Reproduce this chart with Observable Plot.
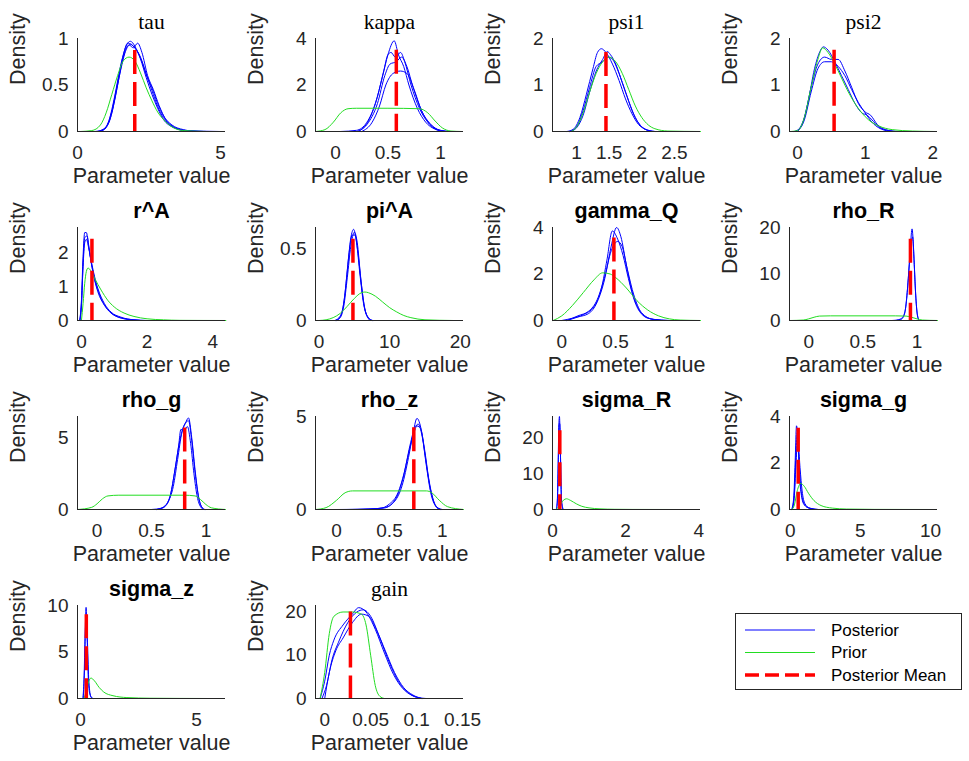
<!DOCTYPE html>
<html><head><meta charset="utf-8">
<script src="https://cdn.jsdelivr.net/npm/d3@7"></script>
<script src="https://cdn.jsdelivr.net/npm/@observablehq/plot@0.6"></script>
<style>
html,body{margin:0;padding:0;background:#fff;}
#chart{position:relative;width:969px;height:761px;overflow:hidden;background:#fff;}
#chart > .panel{position:absolute;}
</style></head><body><div id="chart"></div>
<script>
// ---------------- DATA ----------------
const paramNames = ["tau","kappa","psi1","psi2","r^A","pi^A","gamma_Q","rho_R","rho_g","rho_z","sigma_R","sigma_g","sigma_z","gain"];
const xTicks = [[0,5],[0,0.5,1],[1,1.5,2,2.5],[0,1,2],[0,2,4],[0,10,20],[0,0.5,1],[0,0.5,1],[0,0.5,1],[0,0.5,1],[0,2,4],[0,5,10],[0,5],[0,0.05,0.1,0.15]];
const yTicks = [[0,0.5,1],[0,2,4],[0,1,2],[0,1,2],[0,1,2],[0,0.5],[0,2,4],[0,10,20],[0,5],[0,5],[0,10,20],[0,2,4],[0,5,10],[0,10,20]];
const posteriorMeans = [2.0,0.58,1.45,0.54,0.32,4.8,0.485,0.94,0.805,0.73,0.2,0.57,0.25,0.028];
const meanLineTops = [0.87,3.5,1.7,1.75,2.4,0.57,3.55,17.5,5.7,4.4,22,3.5,9,20];
const legendLabels = ["Posterior","Prior","Posterior Mean"];

const prior_tau = [[0.1,0],[0.5,0.01],[0.8,0.07],[1.0,0.2],[1.2,0.4],[1.4,0.6],[1.6,0.76],[1.8,0.8],[2.0,0.76],[2.2,0.63],[2.4,0.47],[2.6,0.33],[2.8,0.21],[3.0,0.13],[3.3,0.05],[3.7,0.01],[4.5,0]];
const post_tau = [
 [[0.6,0],[0.9,0.02],[1.1,0.12],[1.3,0.38],[1.5,0.7],[1.7,0.92],[1.85,0.97],[2.0,0.92],[2.2,0.78],[2.4,0.58],[2.6,0.4],[2.8,0.25],[3.0,0.13],[3.3,0.05],[3.6,0.02],[4.0,0]],
 [[0.8,0],[1.0,0.04],[1.2,0.2],[1.4,0.5],[1.6,0.8],[1.8,0.93],[1.95,0.9],[2.1,0.95],[2.25,0.85],[2.45,0.6],[2.65,0.45],[2.85,0.28],[3.1,0.12],[3.4,0.04],[3.8,0.01],[5.0,0]],
 [[0.7,0],[1.0,0.05],[1.2,0.22],[1.4,0.52],[1.6,0.82],[1.75,0.95],[1.9,0.93],[2.05,0.88],[2.25,0.75],[2.45,0.57],[2.6,0.47],[2.8,0.3],[3.0,0.17],[3.3,0.07],[3.7,0.02],[4.2,0]],
 [[0.8,0],[1.1,0.1],[1.3,0.34],[1.5,0.65],[1.7,0.88],[1.85,0.94],[2.0,0.9],[2.2,0.8],[2.4,0.62],[2.6,0.44],[2.8,0.27],[3.0,0.15],[3.3,0.06],[3.7,0.01],[4.5,0]]
];
const prior_kappa = [[-0.19,0],[-0.1,0.08],[-0.02,0.4],[0.05,0.8],[0.12,0.98],[0.2,1.0],[0.5,1.0],[0.8,0.98],[0.88,0.8],[0.95,0.45],[1.02,0.15],[1.1,0.02],[1.2,0]];
const post_kappa = [
 [[0.05,0],[0.2,0.05],[0.3,0.4],[0.38,1.2],[0.45,2.4],[0.5,3.3],[0.56,3.9],[0.6,3.3],[0.65,2.8],[0.7,2.0],[0.78,1.0],[0.86,0.4],[0.95,0.1],[1.05,0]],
 [[0.2,0],[0.3,0.3],[0.4,1.2],[0.47,2.4],[0.52,2.9],[0.58,3.0],[0.63,3.2],[0.68,2.8],[0.74,1.9],[0.82,0.9],[0.9,0.3],[1.0,0.05],[1.08,0]],
 [[0.25,0],[0.35,0.4],[0.42,1.1],[0.48,2.0],[0.55,2.5],[0.62,2.6],[0.68,2.5],[0.75,1.8],[0.82,0.9],[0.9,0.35],[1.0,0.05],[1.1,0]],
 [[0.22,0],[0.32,0.5],[0.4,1.5],[0.46,2.6],[0.5,3.3],[0.53,3.4],[0.57,3.2],[0.62,3.4],[0.66,3.0],[0.72,2.0],[0.8,1.0],[0.9,0.3],[1.0,0.02],[1.05,0]]
];
const prior_psi1 = [[0.63,0],[0.9,0],[1.0,0.1],[1.1,0.4],[1.2,0.85],[1.3,1.25],[1.4,1.5],[1.5,1.6],[1.6,1.5],[1.7,1.25],[1.8,0.9],[1.9,0.55],[2.0,0.3],[2.1,0.14],[2.2,0.06],[2.4,0.01],[2.9,0]];
const post_psi1 = [
 [[0.85,0],[0.95,0.05],[1.05,0.3],[1.15,0.8],[1.25,1.35],[1.32,1.7],[1.38,1.78],[1.45,1.7],[1.55,1.45],[1.65,1.1],[1.75,0.7],[1.85,0.38],[1.95,0.15],[2.05,0.05],[2.2,0]],
 [[0.9,0],[1.0,0.1],[1.1,0.45],[1.2,0.95],[1.3,1.4],[1.4,1.5],[1.48,1.6],[1.55,1.55],[1.65,1.25],[1.75,0.85],[1.85,0.45],[1.95,0.18],[2.05,0.05],[2.2,0]],
 [[0.9,0],[1.0,0.08],[1.1,0.35],[1.2,0.85],[1.3,1.3],[1.4,1.55],[1.47,1.72],[1.52,1.65],[1.6,1.45],[1.7,1.05],[1.8,0.65],[1.9,0.3],[2.0,0.1],[2.15,0]]
];
const prior_psi2 = [[-0.1,0],[0,0.02],[0.1,0.3],[0.2,0.95],[0.3,1.55],[0.37,1.8],[0.45,1.7],[0.55,1.45],[0.65,1.15],[0.75,0.85],[0.85,0.6],[0.95,0.4],[1.05,0.25],[1.2,0.12],[1.4,0.04],[1.7,0.01],[2.05,0]];
const post_psi2 = [
 [[-0.05,0],[0.05,0.1],[0.15,0.6],[0.25,1.35],[0.33,1.72],[0.38,1.82],[0.45,1.75],[0.55,1.5],[0.65,1.2],[0.75,0.9],[0.85,0.6],[0.95,0.4],[1.03,0.35],[1.1,0.25],[1.2,0.1],[1.35,0.02],[1.5,0]],
 [[0,0],[0.1,0.3],[0.2,0.95],[0.3,1.45],[0.4,1.6],[0.5,1.55],[0.6,1.55],[0.7,1.3],[0.8,0.95],[0.9,0.6],[1.0,0.42],[1.08,0.35],[1.18,0.15],[1.3,0.04],[1.45,0]],
 [[0,0],[0.1,0.25],[0.2,0.85],[0.3,1.35],[0.4,1.5],[0.5,1.5],[0.6,1.4],[0.7,1.2],[0.8,0.9],[0.9,0.62],[1.0,0.4],[1.1,0.2],[1.2,0.08],[1.35,0.01],[1.45,0]]
];
const prior_rA = [[0,0],[0.05,0.5],[0.1,1.1],[0.15,1.45],[0.2,1.55],[0.3,1.45],[0.4,1.25],[0.6,0.9],[0.8,0.6],[1.0,0.4],[1.3,0.22],[1.6,0.12],[2.0,0.05],[2.5,0.02],[3.0,0.005],[4.4,0]];
const post_rA = [
 [[-0.05,0],[0,0.6],[0.05,1.9],[0.1,2.6],[0.15,2.6],[0.22,2.2],[0.3,1.7],[0.4,1.2],[0.5,0.85],[0.7,0.45],[0.9,0.22],[1.2,0.08],[1.6,0.02],[2.0,0],[4.2,0]],
 [[-0.05,0],[0,0.5],[0.05,1.6],[0.1,2.3],[0.15,2.4],[0.22,2.15],[0.3,1.75],[0.4,1.3],[0.5,0.95],[0.7,0.5],[0.9,0.25],[1.2,0.1],[1.6,0.02],[2.0,0]],
 [[-0.05,0],[0,0.4],[0.05,1.7],[0.1,2.45],[0.17,2.5],[0.25,2.0],[0.33,1.55],[0.45,1.05],[0.6,0.65],[0.8,0.33],[1.0,0.16],[1.3,0.05],[1.8,0]]
];
const prior_piA = [[0,0],[1,0.005],[2,0.02],[3,0.05],[4,0.1],[5,0.155],[6,0.195],[6.5,0.2],[7,0.195],[8,0.17],[9,0.13],[10,0.09],[11,0.06],[12,0.035],[13,0.02],[15,0.005],[19,0]];
const post_piA = [
 [[2.2,0],[3,0.03],[3.5,0.12],[4,0.35],[4.5,0.58],[4.9,0.64],[5.3,0.55],[5.8,0.32],[6.3,0.12],[6.8,0.03],[7.5,0]],
 [[2.4,0],[3,0.02],[3.5,0.1],[4,0.3],[4.5,0.52],[5,0.62],[5.4,0.55],[5.9,0.3],[6.4,0.1],[7,0.02],[7.6,0]],
 [[2.5,0],[3.2,0.05],[3.7,0.2],[4.2,0.45],[4.7,0.6],[5.1,0.6],[5.5,0.48],[6,0.25],[6.5,0.08],[7.2,0]]
];
const prior_gammaQ = [[-0.08,0],[0,0.2],[0.1,0.65],[0.2,1.2],[0.3,1.75],[0.38,2.05],[0.45,2.0],[0.5,1.85],[0.6,1.4],[0.7,0.85],[0.8,0.45],[0.9,0.2],[1.0,0.07],[1.1,0.02],[1.29,0]];
const post_gammaQ = [
 [[0,0],[0.1,0.1],[0.2,0.25],[0.3,0.6],[0.37,1.4],[0.42,2.6],[0.47,3.85],[0.52,3.5],[0.57,2.8],[0.62,1.8],[0.68,0.8],[0.75,0.25],[0.85,0.05],[1.0,0]],
 [[0.05,0],[0.15,0.15],[0.25,0.3],[0.33,0.8],[0.4,1.8],[0.46,3.2],[0.51,4.0],[0.55,3.6],[0.6,2.4],[0.65,1.3],[0.72,0.45],[0.8,0.1],[0.95,0]],
 [[0.05,0],[0.15,0.2],[0.25,0.4],[0.33,0.9],[0.4,1.9],[0.46,3.0],[0.52,3.4],[0.56,3.2],[0.61,2.2],[0.67,1.1],[0.74,0.35],[0.85,0.05],[1.0,0]]
];
const prior_rhoR = [[-0.17,0],[-0.05,0.1],[0.0,0.35],[0.05,0.7],[0.1,0.95],[0.2,1.0],[0.8,1.0],[0.9,0.95],[0.95,0.7],[1.0,0.35],[1.05,0.1],[1.19,0]];
const post_rhoR = [
 [[0.77,0],[0.85,0.2],[0.88,1],[0.9,3.5],[0.92,9],[0.94,16],[0.955,19.7],[0.97,15],[0.985,7],[1.0,2],[1.02,0]],
 [[0.8,0],[0.86,0.5],[0.89,2],[0.91,6],[0.93,12],[0.95,17],[0.96,18],[0.975,12],[0.99,5],[1.005,1],[1.02,0]]
];
const prior_rhog = [[-0.18,0],[-0.05,0.15],[0,0.4],[0.05,0.75],[0.1,0.95],[0.2,1.0],[0.8,1.0],[0.9,0.95],[0.95,0.7],[1.0,0.35],[1.05,0.12],[1.18,0]];
const post_rhog = [
 [[0.5,0],[0.6,0.1],[0.65,0.5],[0.7,1.6],[0.74,3.5],[0.78,5.4],[0.81,6.0],[0.84,6.4],[0.87,5.0],[0.9,2.8],[0.93,1.0],[0.96,0.2],[0.99,0]],
 [[0.55,0],[0.62,0.2],[0.67,0.9],[0.71,2.5],[0.75,4.5],[0.77,5.6],[0.8,5.5],[0.83,5.8],[0.86,4.6],[0.89,2.5],[0.92,0.9],[0.95,0.2],[0.98,0]],
 [[0.55,0],[0.63,0.3],[0.68,1.2],[0.72,3.0],[0.76,4.8],[0.8,5.9],[0.84,6.2],[0.87,4.8],[0.9,2.6],[0.94,0.6],[0.98,0]]
];
const prior_rhoz = [[-0.2,0],[-0.1,0.1],[0,0.5],[0.08,0.9],[0.15,1.0],[0.85,1.0],[0.9,0.9],[0.97,0.5],[1.05,0.15],[1.2,0]];
const post_rhoz = [
 [[0,0],[0.3,0.02],[0.45,0.1],[0.55,0.45],[0.62,1.3],[0.68,2.8],[0.72,4.0],[0.76,4.9],[0.8,4.3],[0.84,2.8],[0.88,1.3],[0.92,0.4],[0.96,0.08],[1.0,0]],
 [[0.1,0],[0.4,0.05],[0.5,0.3],[0.58,0.9],[0.64,2.0],[0.7,3.6],[0.75,4.5],[0.79,4.4],[0.83,3.3],[0.87,1.7],[0.91,0.6],[0.95,0.1],[0.99,0]],
 [[0.2,0],[0.45,0.08],[0.55,0.5],[0.62,1.5],[0.68,3.0],[0.73,4.1],[0.77,4.6],[0.81,3.9],[0.85,2.3],[0.89,0.9],[0.94,0.15],[0.98,0]]
];
const prior_sigmaR = [[0.1,0],[0.2,1.2],[0.3,2.6],[0.38,3.0],[0.5,2.5],[0.65,1.6],[0.8,0.9],[1.0,0.45],[1.3,0.18],[1.7,0.06],[2.2,0.02],[3.45,0]];
const post_sigmaR = [
 [[0.1,0],[0.13,2],[0.15,10],[0.17,22],[0.19,26],[0.21,20],[0.23,9],[0.25,2],[0.3,0]],
 [[0.11,0],[0.14,4],[0.16,14],[0.18,24],[0.2,24],[0.22,14],[0.24,4],[0.28,0]]
];
const prior_sigmag = [[0.1,0],[0.3,0.2],[0.5,0.8],[0.75,1.12],[1.0,1.0],[1.3,0.7],[1.7,0.38],[2.2,0.17],[3,0.06],[4,0.02],[6,0.005],[10.3,0]];
const post_sigmag = [
 [[0.1,0],[0.25,0.5],[0.35,2],[0.45,3.6],[0.55,3.0],[0.65,1.6],[0.8,0.6],[1.0,0.2],[1.4,0.05],[2,0]],
 [[0.15,0],[0.3,0.6],[0.4,1.8],[0.5,2.7],[0.6,2.6],[0.7,1.8],[0.85,0.8],[1.05,0.25],[1.4,0.06],[2,0]],
 [[0.15,0],[0.3,0.8],[0.42,2.5],[0.5,3.3],[0.6,2.4],[0.72,1.2],[0.9,0.4],[1.2,0.1],[1.8,0]]
];
const prior_sigmaz = [[0.15,0],[0.25,0.8],[0.35,1.8],[0.45,2.2],[0.6,1.9],[0.8,1.2],[1.0,0.7],[1.4,0.3],[2,0.1],[3,0.03],[5.5,0]];
const post_sigmaz = [
 [[0.1,0],[0.15,2],[0.2,7],[0.24,9.8],[0.28,7],[0.33,2.5],[0.4,0.5],[0.5,0]],
 [[0.12,0],[0.17,3],[0.22,8],[0.26,8.8],[0.3,6],[0.36,1.8],[0.45,0.2],[0.55,0]]
];
const prior_gain = [[-0.005,0],[0,6],[0.005,15],[0.01,19],[0.02,20],[0.03,20],[0.04,19.5],[0.045,17],[0.05,10],[0.055,3],[0.06,0.5],[0.065,0]];
const post_gain = [
 [[-0.005,0],[0,4],[0.005,10],[0.01,13.5],[0.02,17],[0.03,19.5],[0.037,21],[0.045,20],[0.055,16],[0.065,10.5],[0.075,5.5],[0.085,2.3],[0.095,0.7],[0.105,0]],
 [[-0.003,0],[0.002,3],[0.008,9],[0.015,13],[0.025,17.5],[0.035,20],[0.042,20.5],[0.05,19],[0.06,14],[0.07,8.5],[0.08,4],[0.09,1.5],[0.1,0.3],[0.11,0]],
 [[0,0],[0.005,6],[0.012,11],[0.02,14],[0.03,17.5],[0.04,19.5],[0.048,19],[0.056,16],[0.066,11],[0.076,6],[0.086,2.5],[0.096,0.8],[0.106,0]]
];

const priors = [prior_tau,prior_kappa,prior_psi1,prior_psi2,prior_rA,prior_piA,prior_gammaQ,prior_rhoR,prior_rhog,prior_rhoz,prior_sigmaR,prior_sigmag,prior_sigmaz,prior_gain];
const posteriors = [post_tau,post_kappa,post_psi1,post_psi2,post_rA,post_piA,post_gammaQ,post_rhoR,post_rhog,post_rhoz,post_sigmaR,post_sigmag,post_sigmaz,post_gain];

// ---------------- LAYOUT / STYLE ----------------
const latexTitles = new Set(["tau","kappa","psi1","psi2","gain"]);
const xDomains = [[0,5.17],[-0.19,1.22],[0.63,2.9],[-0.12,2.07],[-0.12,4.39],[-0.5,20.45],[-0.086,1.29],[-0.177,1.19],[-0.18,1.18],[-0.2,1.2],[0,4.05],[-0.05,10.5],[-0.13,6.25],[-0.01,0.151]];
const yMaxes = [1.0,4,2,2,2.75,0.653,4,20,6.5,5,26,4,10,21.5];
const colLeft = [77,315,552,789];
const rowTop = [38,227,416,605];
const PW = 148, PH = 93, ML = 75, MR = 14, MT = 42, MB = 62;
const SANS = "'Liberation Sans', Arial, Helvetica, sans-serif";
const SERIF = "'Liberation Serif', 'Times New Roman', serif";
const AXC = "#262626";
const BLUE = "#0000ff", GREEN = "#22dd22", RED = "#ff0000";
const fmt = d => String(d);

const chart = document.getElementById("chart");

paramNames.forEach((name, i) => {
  const col = i % 4, row = Math.floor(i / 4);
  const postRows = posteriors[i].flatMap((ln, k) => ln.map(([x, y]) => ({x, y, k})));
  const priorRows = priors[i].map(([x, y]) => ({x, y}));
  const meanRows = [{x: posteriorMeans[i], top: meanLineTops[i]}];
  const xd = xDomains[i], yd = [0, yMaxes[i]];
  const isTex = latexTitles.has(name);
  const svg = Plot.plot({
    width: ML + PW + MR, height: MT + PH + MB,
    marginLeft: ML, marginRight: MR, marginTop: MT, marginBottom: MB,
    x: {domain: xd}, y: {domain: yd},
    style: {fontFamily: SANS, fontSize: "19px", color: AXC, background: "transparent", overflow: "visible"},
    marks: [
      Plot.line(postRows, {x: "x", y: "y", z: "k", stroke: BLUE, strokeWidth: 1, curve: "monotone-x"}),
      Plot.line(priorRows, {x: "x", y: "y", stroke: GREEN, strokeWidth: 1, curve: "monotone-x"}),
      Plot.ruleX(meanRows, {x: "x", y1: "top", y2: () => 0, stroke: RED, strokeWidth: 3.5, strokeDasharray: "24,8"}),
      Plot.ruleX([xd[0]], {stroke: AXC, strokeWidth: 1}),
      Plot.ruleY([0], {stroke: AXC, strokeWidth: 1}),
      Plot.axisX(xTicks[i], {tickSize: 0, tickPadding: 14, tickFormat: fmt, label: null, fontSize: 19}),
      Plot.axisY(yTicks[i], {tickSize: 0, tickPadding: 9, tickFormat: fmt, label: null, fontSize: 19}),
      Plot.text([name], {text: d => d, frameAnchor: "top", lineAnchor: "bottom", dy: -10,
        fontSize: 21.5, fontWeight: isTex ? "normal" : "bold", fontFamily: isTex ? SERIF : SANS, fill: "#000"}),
      Plot.text(["Parameter value"], {text: d => d, frameAnchor: "bottom", lineAnchor: "bottom", dy: 51, fontSize: 21.5, fill: AXC}),
      Plot.text(["Density"], {text: d => d, frameAnchor: "left", rotate: -90, dx: -59, fontSize: 21.5, fill: AXC})
    ]
  });
  svg.classList.add("panel");
  svg.style.left = (colLeft[col] - ML) + "px";
  svg.style.top = (rowTop[row] - MT) + "px";
  svg.style.position = "absolute";
  chart.appendChild(svg);
});

// ---------------- LEGEND ----------------
const lg = d3.select(chart).append("svg").attr("class", "panel")
  .style("position", "absolute").style("left", "735px").style("top", "613px")
  .attr("width", 228).attr("height", 78);
lg.append("rect").attr("x", 0.5).attr("y", 0.5).attr("width", 226).attr("height", 76)
  .attr("fill", "#fff").attr("stroke", AXC).attr("stroke-width", 1);
const legendStyles = [
  {stroke: BLUE, width: 1, dash: null},
  {stroke: GREEN, width: 1, dash: null},
  {stroke: RED, width: 3.5, dash: "14,6"}
];
legendLabels.forEach((lab, j) => {
  const y = 17 + j * 22.5;
  const st = legendStyles[j];
  lg.append("line").attr("x1", 10).attr("x2", 80).attr("y1", y).attr("y2", y)
    .attr("stroke", st.stroke).attr("stroke-width", st.width).attr("stroke-dasharray", st.dash);
  lg.append("text").attr("x", 96).attr("y", y).attr("dy", "0.35em")
    .attr("font-family", SANS).attr("font-size", 17).attr("fill", "#000").text(lab);
});
</script>
</body></html>
